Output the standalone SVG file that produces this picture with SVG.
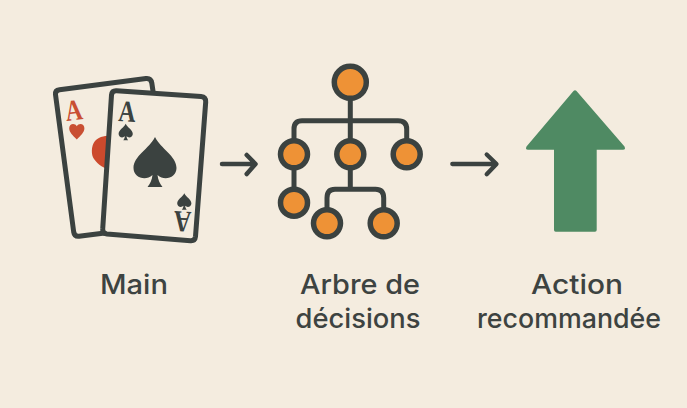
<svg xmlns="http://www.w3.org/2000/svg" width="687" height="408" viewBox="0 0 687 408">
<style>
.ink{fill:none;stroke:#3b4240;stroke-linecap:round;stroke-linejoin:round}
.card{fill:#f4ecdf;stroke:#3b4240;stroke-width:5}
.n{fill:#ee9236;stroke:#3b4240;stroke-width:5.500}
.t{font-family:"Inter","Liberation Sans",sans-serif;font-size:27px;font-weight:500;fill:#3d4341;text-anchor:middle}
.a{font-family:"Liberation Serif",serif;font-size:25px;font-weight:bold;text-anchor:middle}
</style>
<defs>
<path id="spade" d="M0-25C-6-13-21.500-6-21.500 6C-21.500 15-10 20-2.500 13C-3 18-5 22-7.500 25H7.500C5 22 3 18 2.500 13C10 20 21.500 15 21.500 6C21.500-6 6-13 0-25Z"/>
<path id="heart" d="M0 9C-4 4.500-8 1.500-8-3C-8-8-2-9 0-5C2-9 8-8 8-3C8 1.500 4 4.500 0 9Z"/>
</defs>
<rect width="687" height="408" fill="#f4ecdf"/>
<g id="main">
<path class="card" d="M59.500 89.700L146 78.500Q151 78 151.800 83L172 220Q172.500 224 168 225L79 236.300Q74.500 236.800 73.700 232L55.500 94.500Q55 90.300 59.500 89.700Z"/>
<text class="a" fill="#c94f33" transform="translate(75 120) rotate(-7) scale(.95 1.18)">A</text>
<use href="#heart" fill="#c94f33" transform="translate(76.800 131) scale(.95 .95)"/>
<path d="M112 135.500C106 135.500 100 136 95 141C91 146 91 155 94 159C98 165 104 168 112 171Z" fill="#cc4a2d"/>
<path class="card" d="M116.500 90.800L201 96.500Q206 97 205.700 102L195.500 236.500Q195 241 190.500 240.700L107 234Q102.300 233.500 102.700 229L111.500 95Q112 90.500 116.500 90.800Z"/>
<text class="a" fill="#3b4240" transform="translate(126.500 121.500) rotate(3) scale(.95 1.2)">A</text>
<use href="#spade" fill="#3b4240" transform="translate(125.700 132) scale(.33)"/>
<use href="#spade" fill="#3b4240" transform="translate(155 162)"/>
<text class="a" fill="#3b4240" transform="translate(183 211.500) rotate(183) scale(.95 1.2)">A</text>
<use href="#spade" fill="#3b4240" transform="translate(184.300 201.500) scale(.33)"/>
</g>
<g id="connectors" class="ink">
<path stroke-width="4.500" d="M222 164H255M246.700 155L255.500 164L246.700 174"/>
<path stroke-width="4.300" d="M452.300 164H496M486.700 154.500L496.500 164L486.700 174.300"/>
<path stroke-width="5" d="M350.300 98V171M294 140V129Q294 120.700 302 120.700H398Q406.700 120.700 406.700 129V140M294 168V188M350.300 168V189.300M327 208V198Q327 189.300 335 189.300H375.500Q383.700 189.300 383.700 198V208"/>
</g>
<g id="root"><circle class="n" cx="350.300" cy="82.300" r="16"/></g>
<g id="n1"><circle class="n" cx="294" cy="154.300" r="13.500"/></g>
<g id="n2"><circle class="n" cx="350.300" cy="154.300" r="13.500"/></g>
<g id="n3"><circle class="n" cx="406.700" cy="154.300" r="13.500"/></g>
<g id="n4"><circle class="n" cx="294" cy="202.700" r="13.500"/></g>
<g id="n5"><circle class="n" cx="327" cy="223.300" r="13.500"/></g>
<g id="n6"><circle class="n" cx="383.700" cy="223.300" r="13.500"/></g>
<g id="action"><path d="M573.500 91Q575 89.300 576.500 91L624.500 146.500Q626 149.800 623 149.800H596.700V230Q596.700 231.700 595 231.700H555.700Q554 231.700 554 230V149.800H528Q525 149.800 526.500 146.500Z" fill="#4f8a63"/></g>
<g id="labels">
<text class="t" x="134" y="293.500" textLength="68" lengthAdjust="spacingAndGlyphs">Main</text>
<text class="t" x="360" y="293.500" textLength="120" lengthAdjust="spacingAndGlyphs">Arbre de</text>
<text class="t" x="358" y="327.500" textLength="125" lengthAdjust="spacingAndGlyphs">décisions</text>
<text class="t" x="577" y="293.500" textLength="92" lengthAdjust="spacingAndGlyphs">Action</text>
<text class="t" x="569" y="327.500" textLength="184" lengthAdjust="spacingAndGlyphs">recommandée</text>
</g>
</svg>
